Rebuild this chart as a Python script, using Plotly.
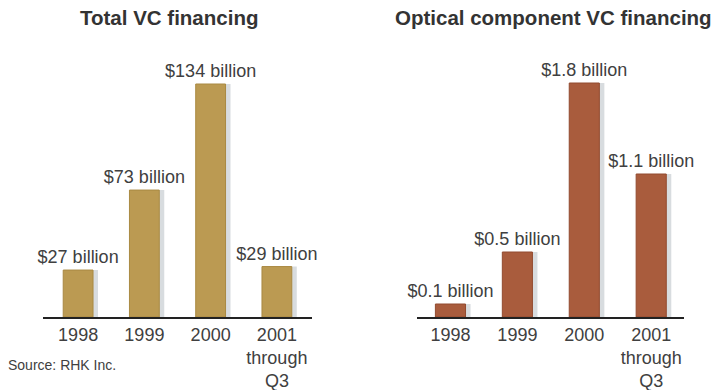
import plotly.graph_objects as go
from plotly.subplots import make_subplots

categories = ["1998", "1999", "2000", "2001<br>through<br>Q3"]
total_vc = [27, 73, 134, 29]
total_labels = ["$27 billion", "$73 billion", "$134 billion", "$29 billion"]
optical_vc = [0.1, 0.5, 1.8, 1.1]
optical_labels = ["$0.1 billion", "$0.5 billion", "$1.8 billion", "$1.1 billion"]

FONT = "Liberation Sans, Arial, Helvetica, sans-serif"
GOLD = "#bb9a52"
GOLD_EDGE = "#a98942"
RUST = "#a95c3d"
RUST_EDGE = "#924b30"
SHADOW = "#d8dcdf"
TEXT = "#404040"

xs = list(range(len(categories)))

fig = make_subplots(rows=1, cols=2)

BW = 0.45
def add(col, vals, labels, color, edge):
    fig.add_trace(go.Bar(x=xs, y=vals, width=BW, offset=-BW / 2 + 0.075,
                         marker=dict(color=SHADOW, line=dict(width=0)),
                         hoverinfo="skip", showlegend=False), row=1, col=col)
    fig.add_trace(go.Bar(x=xs, y=vals, width=BW, text=labels,
                         textposition="outside", constraintext="none", cliponaxis=False,
                         textfont=dict(family=FONT, size=18, color=TEXT),
                         marker=dict(color=color, line=dict(color=edge, width=1)),
                         showlegend=False), row=1, col=col)

add(1, total_vc, total_labels, GOLD, GOLD_EDGE)
add(2, optical_vc, optical_labels, RUST, RUST_EDGE)

ydom = [(390 - 317) / 390, (390 - 40) / 390]
common_x = dict(tickmode="array", tickvals=xs, ticktext=categories, showline=True,
                linecolor="#222222", linewidth=2, showgrid=False, zeroline=False,
                automargin=False,
                ticks="", tickfont=dict(family=FONT, size=18, color=TEXT), fixedrange=True)
common_y = dict(visible=False, showgrid=False, zeroline=False, domain=ydom, fixedrange=True)

fig.update_layout(
    barmode="overlay",
    width=720, height=390,
    margin=dict(l=0, r=0, t=0, b=0),
    paper_bgcolor="white", plot_bgcolor="white",
    font=dict(family=FONT, color=TEXT),
    xaxis=dict(domain=[43 / 720, 312 / 720], range=[-0.53, 3.53], **common_x),
    xaxis2=dict(domain=[417 / 720, 684 / 720], range=[-0.5, 3.49], **common_x),
    yaxis=dict(range=[0, 134 * 277 / 233], **common_y),
    yaxis2=dict(range=[0, 1.8 * 277 / 234], **common_y),
    annotations=[
        dict(text="<b>Total VC financing</b>", x=169 / 720, y=(390 - 18) / 390,
             xref="paper", yref="paper", xanchor="center", yanchor="middle",
             showarrow=False, font=dict(family=FONT, size=20.5, color="#333333")),
        dict(text="<b>Optical component VC financing</b>", x=553 / 720, y=(390 - 18) / 390,
             xref="paper", yref="paper", xanchor="center", yanchor="middle",
             showarrow=False, font=dict(family=FONT, size=20.5, color="#333333")),
        dict(text="Source: RHK Inc.", x=6 / 720, y=(390 - 365) / 390,
             xref="paper", yref="paper", xanchor="left", yanchor="middle",
             showarrow=False, font=dict(family=FONT, size=14, color=TEXT)),
    ],
)

fig.write_html("out.html", config={"displayModeBar": False, "staticPlot": True},
               post_script="document.body.style.margin='0';document.body.style.overflow='hidden';")
